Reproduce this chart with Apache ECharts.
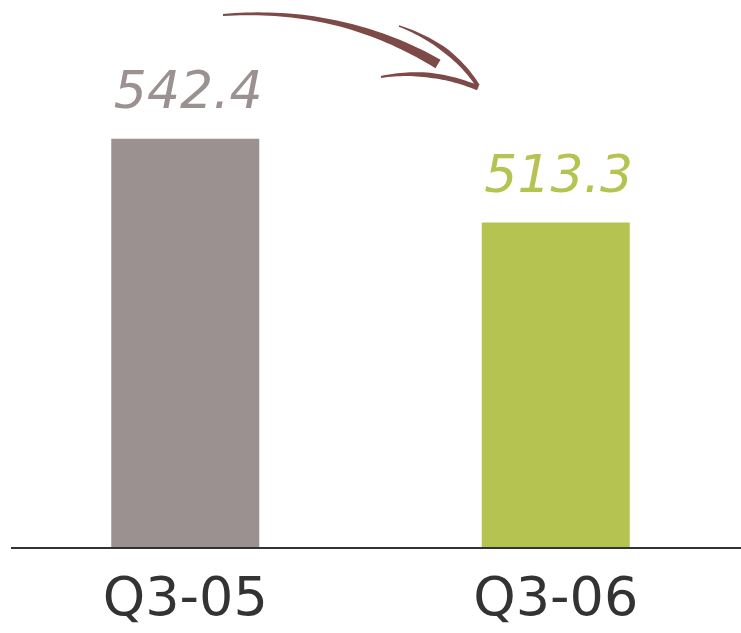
<!DOCTYPE html>
<html><head><meta charset="utf-8">
<script src="https://cdn.jsdelivr.net/npm/echarts@6/dist/echarts.min.js"></script>
<style>html,body{margin:0;padding:0;background:#fff}#c{width:741px;height:633px}</style>
</head><body><div id="c"></div>
<script>
const categories = ['Q3-05', 'Q3-06'];
const values = [542.4, 513.3];
const barColors = ['#9b9191', '#b5c451'];

const chart = echarts.init(document.getElementById('c'));

function taper2(p0, p1, p2, w0, wm, w1, n) {
  const left = [], right = [];
  for (let i = 0; i <= n; i++) {
    const t = i / n;
    const x = (1-t)*(1-t)*p0[0] + 2*(1-t)*t*p1[0] + t*t*p2[0];
    const y = (1-t)*(1-t)*p0[1] + 2*(1-t)*t*p1[1] + t*t*p2[1];
    const dx = 2*(1-t)*(p1[0]-p0[0]) + 2*t*(p2[0]-p1[0]);
    const dy = 2*(1-t)*(p1[1]-p0[1]) + 2*t*(p2[1]-p1[1]);
    const L = Math.hypot(dx, dy);
    const w = (t < 0.5 ? w0 + (wm - w0) * t * 2 : wm + (w1 - wm) * (t - 0.5) * 2) / 2;
    const nx = -dy / L * w, ny = dx / L * w;
    left.push([x + nx, y + ny]);
    right.push([x - nx, y - ny]);
  }
  return left.concat(right.reverse());
}
const arrowColor = '#7d4a47';

chart.setOption({
  animation: false,
  grid: { left: 0, right: 0, top: 2, bottom: 85 },
  xAxis: {
    type: 'category',
    data: categories,
    axisLine: { show: false },
    axisTick: { show: false },
    axisLabel: { color: '#333', fontFamily: 'DejaVu Sans', fontSize: 54, margin: 26 }
  },
  yAxis: { type: 'value', min: 400, max: 590, show: false, splitLine: { show: false } },
  series: [{
    type: 'bar',
    barWidth: 148,
    data: values.map((v, i) => ({
      value: v,
      itemStyle: { color: barColors[i] },
      label: { color: barColors[i] }
    })),
    label: {
      show: true,
      position: 'top',
      distance: 18,
      offset: [3, 0],
      fontFamily: 'DejaVu Sans',
      fontStyle: 'italic',
      fontSize: 52,
      formatter: p => p.value.toFixed(1)
    }
  }],
  graphic: [
    { type: 'line', shape: { x1: 11, y1: 548, x2: 741, y2: 548 }, style: { stroke: '#333', lineWidth: 2 }, z: 10 },
    { type: 'polygon', shape: { points: taper2([223, 15], [340, 6], [438, 64], 2, 5, 10, 40) }, style: { fill: arrowColor } },
    { type: 'polygon', shape: { points: taper2([399, 26], [452, 45], [478, 86], 1.5, 5, 4, 30) }, style: { fill: arrowColor } },
    { type: 'polygon', shape: { points: taper2([381, 77], [430, 68], [478, 88], 2, 5, 5, 30) }, style: { fill: arrowColor } }
  ]
});
</script></body></html>
